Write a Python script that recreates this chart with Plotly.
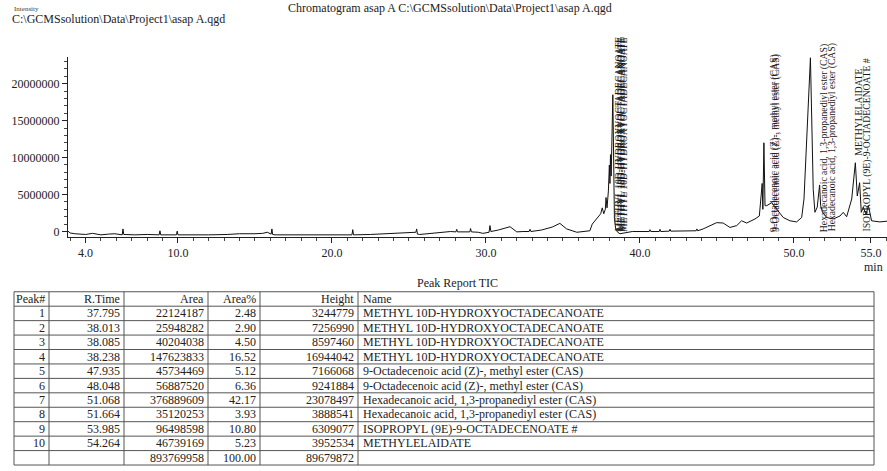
import plotly.graph_objects as go

# ---------------- data ----------------
# chromatogram trace (retention time [min], intensity in millions)
rt = [2.86, 3.0, 3.3, 3.6, 4.0, 4.45, 4.7, 5.0, 5.5, 5.9, 6.38, 6.43, 6.48, 7.2, 8.0, 8.78, 8.83, 8.88,
      9.9, 9.95, 10.0, 11.0, 12.0, 13.2, 14.0, 15.0, 15.5, 15.8, 16.05, 16.1, 16.15, 16.3, 17.5, 19.0,
      20.5, 21.3, 21.35, 21.4, 22.5, 24.0, 25.45, 25.5, 25.55, 25.7, 26.8, 27.7, 28.05, 28.1, 28.15,
      28.6, 28.95, 29.0, 29.05, 29.5, 29.8, 30.2, 30.26, 30.32, 30.8, 31.56, 31.9, 32.0, 32.4, 32.8,
      32.86, 32.92, 33.6, 34.3, 34.8, 35.24, 35.9, 36.3, 36.75, 36.9, 37.1, 37.3, 37.45, 37.55, 37.65,
      37.75, 37.795, 37.86, 37.95, 38.013, 38.05, 38.085, 38.13, 38.238, 38.29, 38.34, 38.42, 38.55,
      38.7, 39.5, 40.6, 40.65, 40.7, 41.25, 41.3, 41.35, 41.9, 41.95, 42.0, 43.0, 43.65, 43.7, 43.75,
      44.1, 44.98, 45.4, 45.84, 46.28, 46.6, 46.93, 47.47, 47.75, 47.935, 47.98, 48.048, 48.12, 48.23,
      48.55, 48.88, 49.3, 49.74, 50.17, 50.5, 50.65, 51.068, 51.25, 51.36, 51.51, 51.664, 51.73, 51.85,
      52.12, 52.55, 52.99, 53.2, 53.42, 53.75, 53.985, 54.11, 54.264, 54.37, 54.5, 54.68, 54.83, 55.04,
      55.58, 56.04]
intensity = [0.05, -0.2, -0.3, -0.35, -0.4, -0.25, -0.35, -0.45, -0.35, -0.3, -0.45, 0.35, -0.4, -0.45,
             -0.4, -0.45, 0.1, -0.45, -0.45, 0.05, -0.45, -0.4, -0.45, -0.4, -0.3, -0.3, -0.25, -0.1,
             -0.35, 0.35, -0.4, -0.45, -0.45, -0.4, -0.45, -0.45, 0.25, -0.45, -0.4, -0.25, -0.1, 0.35,
             -0.35, -0.4, -0.2, 0.0, -0.05, 0.3, -0.05, 0.0, -0.05, 0.4, -0.05, -0.1, -0.25, -0.1, 0.8,
             0.0, 0.2, 0.65, 0.1, -0.05, 0.0, 0.0, 0.3, 0.0, 0.2, 0.6, 1.1, 0.35, -0.1, 0.0, 0.1, 1.0,
             1.5, 1.9, 2.4, 3.2, 2.4, 3.0, 4.6, 3.2, 5.5, 9.0, 6.5, 10.4, 7.5, 18.5, 6.0, 1.8, 0.4, -0.1,
             -0.3, 0.0, 0.0, 0.25, 0.0, 0.0, 0.3, 0.0, 0.05, 0.3, 0.05, 0.05, 0.1, 0.35, 0.1, 0.35, 1.2,
             1.15, 0.55, 0.8, 1.45, 1.15, 1.7, 2.1, 6.5, 3.0, 12.0, 3.5, 3.5, 3.9, 3.0, 1.9, 1.45, 1.3,
             1.9, 4.4, 23.5, 5.7, 2.6, 3.3, 6.3, 3.5, 2.6, 1.9, 1.7, 2.1, 2.6, 2.0, 4.4, 9.3, 4.8, 6.6,
             2.6, 3.3, 2.3, 3.5, 1.45, 1.3, 1.4]

# peak report
peak_no = ["1", "2", "3", "4", "5", "6", "7", "8", "9", "10", ""]
r_time = ["37.795", "38.013", "38.085", "38.238", "47.935", "48.048", "51.068", "51.664", "53.985", "54.264", ""]
area = ["22124187", "25948282", "40204038", "147623833", "45734469", "56887520", "376889609", "35120253",
        "96498598", "46739169", "893769958"]
area_pct = ["2.48", "2.90", "4.50", "16.52", "5.12", "6.36", "42.17", "3.93", "10.80", "5.23", "100.00"]
height = ["3244779", "7256990", "8597460", "16944042", "7166068", "9241884", "23078497", "3888541",
          "6309077", "3952534", "89679872"]
names = ["METHYL 10D-HYDROXYOCTADECANOATE", "METHYL 10D-HYDROXYOCTADECANOATE",
         "METHYL 10D-HYDROXYOCTADECANOATE", "METHYL 10D-HYDROXYOCTADECANOATE",
         "9-Octadecenoic acid (Z)-, methyl ester (CAS)", "9-Octadecenoic acid (Z)-, methyl ester (CAS)",
         "Hexadecanoic acid, 1,3-propanediyl ester (CAS)", "Hexadecanoic acid, 1,3-propanediyl ester (CAS)",
         "ISOPROPYL (9E)-9-OCTADECENOATE #", "METHYLELAIDATE", ""]
header = ["Peak#", "R.Time", "Area", "Area%", "Height", "Name"]

x_tick_vals = [4, 10, 20, 30, 40, 50, 55]
x_tick_text = ["4.0", "10.0", "20.0", "30.0", "40.0", "50.0", "55.0"]
y_tick_vals = [0, 5000000, 10000000, 15000000, 20000000]
y_tick_text = ["0", "5000000", "10000000", "15000000", "20000000"]

# ---------------- figure ----------------
W, H = 887, 471
FONT = "Liberation Serif"
INK = "#222"


def py(p):  # pixel y -> paper
    return 1 - p / H


def px(p):
    return p / W


fig = go.Figure()
fig.add_trace(go.Scatter(x=rt, y=[v * 1e6 for v in intensity], mode="lines",
                         line=dict(color="#111", width=1), hoverinfo="skip", showlegend=False))

# vertical peak labels
label_shift = [12, 11, 11, 10, 12, 12, 13, 12, 12, -2]
label_base = [-0.3e6] * 9 + [10.0e6]
for i in range(10):
    fig.add_annotation(x=float(r_time[i]), y=label_base[i], xref="x", yref="y", text=names[i],
                       textangle=-90, showarrow=False, xanchor="center", yanchor="bottom",
                       xshift=label_shift[i], font=dict(family=FONT, size=9.7, color="#1a1a1a"))

fig.update_layout(
    width=W, height=H, margin=dict(l=0, r=0, t=0, b=0),
    paper_bgcolor="white", plot_bgcolor="white",
    font=dict(family=FONT, size=12, color=INK),
    xaxis=dict(domain=[px(68), 1], range=[2.86, 56.04], showgrid=False, zeroline=False,
               showline=True, linecolor=INK, linewidth=1, mirror=False,
               tickmode="array", tickvals=x_tick_vals, ticktext=x_tick_text,
               ticks="outside", ticklen=5, tickcolor=INK, tickfont=dict(size=12, family=FONT),
               minor=dict(dtick=1, tick0=0, ticks="outside", ticklen=3, tickcolor="#444")),
    yaxis=dict(domain=[py(238), py(57)], range=[-0.74e6, 23.64e6], showgrid=False, zeroline=False,
               showline=True, linecolor=INK, linewidth=1,
               tickmode="array", tickvals=y_tick_vals, ticktext=y_tick_text,
               ticks="outside", ticklen=5, tickcolor=INK, tickfont=dict(size=12, family=FONT),
               minor=dict(dtick=1000000, tick0=0, ticks="outside", ticklen=3, tickcolor="#444")),
)

# texts
fig.add_annotation(x=px(450), y=py(8), xref="paper", yref="paper", showarrow=False,
                   text="Chromatogram asap A C:\\GCMSsolution\\Data\\Project1\\asap A.qgd",
                   font=dict(family=FONT, size=12, color=INK), xanchor="center", yanchor="middle")
fig.add_annotation(x=px(12), y=py(9), xref="paper", yref="paper", showarrow=False, text="Intensity",
                   font=dict(family=FONT, size=7, color="#444"), xanchor="left", yanchor="middle")
fig.add_annotation(x=px(10), y=py(19), xref="paper", yref="paper", showarrow=False,
                   text="C:\\GCMSsolution\\Data\\Project1\\asap A.qgd",
                   font=dict(family=FONT, size=12, color=INK), xanchor="left", yanchor="middle")
fig.add_annotation(x=px(885), y=py(268), xref="paper", yref="paper", showarrow=False, text="min",
                   font=dict(family=FONT, size=12, color=INK), xanchor="right", yanchor="middle")
fig.add_annotation(x=px(457), y=py(284), xref="paper", yref="paper", showarrow=False,
                   text="Peak Report TIC",
                   font=dict(family=FONT, size=12, color=INK), xanchor="center", yanchor="middle")

# ---------------- peak report table ----------------
col_edges = [14, 49, 124, 208, 260, 358, 874]
col_align = ["right", "right", "right", "right", "right", "left"]
tbl_top, row_h = 293, 14.5
columns = [peak_no, r_time, area, area_pct, height, names]
n_rows = len(peak_no) + 1
tbl_bot = tbl_top + n_rows * row_h
LINE = dict(color="#555", width=1)

for r in range(n_rows + 1):
    yy = py(tbl_top + r * row_h)
    fig.add_shape(type="line", xref="paper", yref="paper", x0=px(col_edges[0]), x1=px(col_edges[-1]),
                  y0=yy, y1=yy, line=LINE)
for e in col_edges:
    fig.add_shape(type="line", xref="paper", yref="paper", x0=px(e), x1=px(e),
                  y0=py(tbl_top), y1=py(tbl_bot), line=LINE)

for c in range(len(header)):
    cells = [header[c]] + columns[c]
    for r, txt in enumerate(cells):
        if not txt:
            continue
        yc = py(tbl_top + (r + 0.5) * row_h)
        if col_align[c] == "right":
            xa, anchor = px(col_edges[c + 1] - 2), "right"
        else:
            xa, anchor = px(col_edges[c] + 3), "left"
        fig.add_annotation(x=xa, y=yc, xref="paper", yref="paper", text=txt, showarrow=False,
                           xanchor=anchor, yanchor="middle",
                           font=dict(family=FONT, size=12, color=INK))

fig.write_html("out.html", config={"displayModeBar": False},
               post_script="document.body.style.margin='0';")
